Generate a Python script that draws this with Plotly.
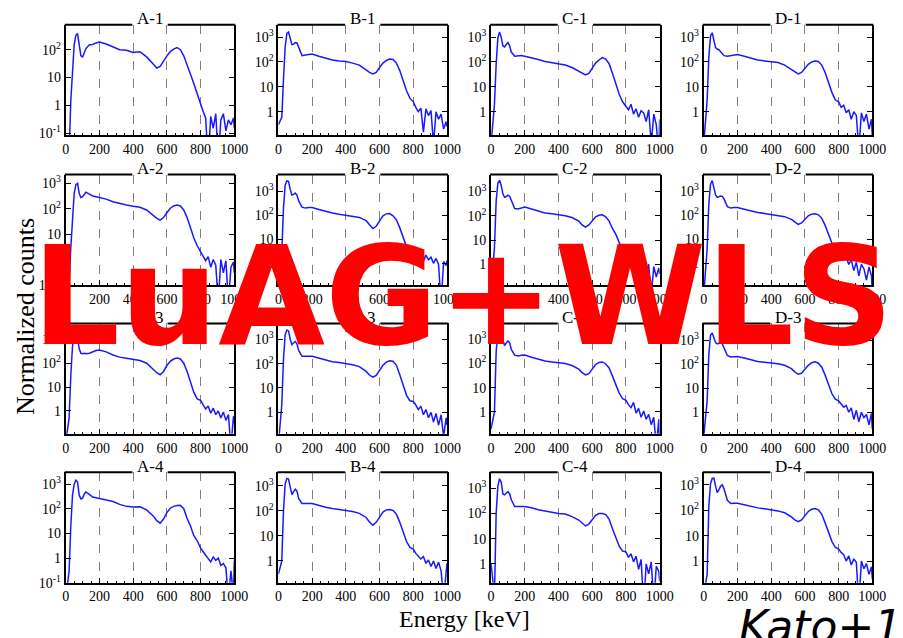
import plotly.graph_objects as go

# ---------------- data ----------------
energy_keV = [0, 20, 30, 40, 50, 60, 70, 80, 90, 100, 110, 120, 140, 160, 180, 200,
              240, 280, 320, 360, 400, 440, 480, 520, 540, 560, 580, 600, 620, 640,
              660, 680, 700, 720, 740, 760, 780, 800, 815, 830, 845, 860, 875, 890,
              905, 920, 935, 950, 965, 980, 995, 1000]

A1 = [0.01, 0.02, 1.5, 25, 150, 330, 380, 150, 60, 55, 80, 110, 150, 155, 175, 190, 160, 130, 100, 95,
      80, 85, 55, 30, 22, 25, 40, 60, 85, 105, 120, 100, 60, 30, 13, 6, 2.5, 1.0, 0.6, 0.35,
      0.01, 0.4, 0.15, 0.5, 0.01, 0.3, 0.5, 0.12, 0.3, 0.2, 0.35, 0.15]
B1 = [0.3, 0.6, 20, 400, 1400, 1600, 900, 500, 520, 600, 580, 400, 180, 190, 200, 210, 170, 140, 120, 110,
      105, 90, 75, 48, 38, 33, 38, 60, 90, 115, 130, 125, 90, 45, 17, 7, 3.5, 2.5, 1.5, 1.0,
      1.4, 0.15, 1.3, 0.7, 1.1, 0.05, 1.0, 0.5, 0.8, 0.2, 0.4, 0.25]
C1 = [0.05, 2, 80, 900, 1600, 1000, 450, 400, 500, 600, 450, 250, 170, 175, 180, 170, 150, 125, 105, 95,
      85, 75, 60, 42, 35, 30, 35, 60, 90, 120, 150, 130, 85, 35, 14, 5, 2.5, 1.6, 1.2, 2.0,
      0.8, 1.3, 0.6, 1.1, 0.9, 0.4, 1.2, 0.05, 0.8, 0.3, 0.02, 0.5]
D1 = [0.05, 3, 150, 1100, 1500, 700, 380, 330, 310, 260, 210, 180, 170, 180, 190, 200, 170, 140, 120, 110,
      105, 95, 75, 50, 38, 33, 38, 55, 80, 100, 110, 105, 75, 38, 15, 6, 3, 2.5, 1.5, 1.8,
      0.9, 1.2, 0.5, 1.0, 0.7, 0.03, 0.9, 0.4, 0.8, 0.2, 0.5, 0.1]
A2 = [0.02, 0.1, 3, 60, 400, 900, 1000, 400, 280, 300, 380, 450, 380, 320, 300, 280, 240, 190, 160, 140,
      125, 115, 90, 55, 42, 36, 45, 70, 105, 130, 140, 130, 90, 45, 18, 7, 3.5, 2.0, 1.2, 0.9,
      1.3, 0.5, 1.0, 0.6, 0.02, 1.0, 0.3, 0.9, 0.02, 0.5, 0.8, 0.3]
B2 = [0.2, 3, 200, 1800, 2700, 2600, 1200, 700, 750, 850, 700, 400, 220, 200, 210, 210, 175, 145, 125, 110,
      100, 92, 82, 60, 40, 28, 35, 60, 95, 115, 118, 95, 65, 30, 11, 5, 3.2, 2.8, 2.0, 1.6,
      2.4, 1.2, 2.2, 1.4, 1.8, 1.0, 1.6, 0.9, 0.02, 1.2, 0.8, 1.3]
C2 = [0.1, 5, 400, 2200, 2900, 1800, 800, 580, 620, 700, 640, 450, 200, 190, 210, 230, 190, 155, 130, 120,
      110, 100, 85, 60, 42, 34, 42, 65, 90, 105, 110, 90, 60, 30, 17, 8, 4, 2.3, 1.8, 1.2,
      2.0, 0.8, 1.5, 0.6, 1.3, 0.4, 1.0, 0.05, 0.8, 0.3, 0.7, 0.4]
D2 = [0.05, 4, 300, 2000, 2800, 1500, 700, 560, 600, 640, 620, 480, 230, 200, 210, 210, 180, 150, 130, 120,
      110, 100, 88, 68, 52, 42, 48, 68, 95, 112, 115, 105, 75, 38, 15, 7, 3.5, 3.0, 2.0, 1.4,
      1.8, 0.9, 1.4, 0.5, 1.1, 0.3, 0.9, 0.6, 0.2, 0.7, 0.3, 0.05]
A3 = [0.05, 0.5, 30, 500, 1400, 1700, 1100, 400, 260, 250, 260, 250, 260, 300, 340, 360, 300, 220, 180, 160,
      145, 130, 100, 55, 40, 33, 45, 80, 120, 150, 165, 150, 100, 45, 17, 6, 3.2, 2.8, 1.8, 1.2,
      1.6, 0.8, 1.3, 0.7, 1.0, 0.5, 0.9, 0.4, 0.7, 0.03, 0.6, 0.3]
B3 = [0.05, 2, 150, 1500, 2400, 2200, 1000, 600, 700, 800, 650, 350, 200, 195, 200, 200, 170, 140, 120, 110,
      100, 90, 75, 48, 34, 28, 33, 55, 85, 115, 130, 125, 85, 35, 12, 5, 3.0, 2.8, 2.0, 1.3,
      1.8, 0.8, 1.3, 0.6, 1.0, 0.4, 0.9, 0.3, 0.8, 0.1, 0.6, 0.3]
C3 = [0.2, 1, 300, 1800, 2300, 1500, 800, 550, 700, 850, 700, 380, 220, 205, 215, 220, 180, 150, 125, 115,
      110, 100, 82, 58, 42, 34, 38, 60, 90, 110, 115, 95, 65, 30, 14, 6, 3.5, 3.0, 2.0, 1.5,
      2.5, 0.9, 1.4, 0.6, 1.1, 0.5, 0.8, 0.3, 0.6, 0.04, 0.5, 0.02]
D3 = [0.1, 3, 250, 1600, 2000, 1300, 800, 700, 750, 800, 700, 500, 230, 200, 210, 210, 180, 150, 130, 120,
      115, 105, 90, 65, 48, 38, 42, 62, 90, 115, 125, 110, 75, 35, 14, 6, 3.5, 3.0, 2.2, 1.6,
      1.9, 1.0, 1.5, 0.5, 1.2, 0.4, 1.0, 0.6, 0.8, 0.3, 0.9, 0.2]
A4 = [0.02, 0.3, 20, 350, 1000, 1450, 1200, 350, 250, 270, 400, 480, 380, 300, 280, 260, 230, 195, 150, 125,
      118, 120, 90, 50, 33, 26, 38, 70, 105, 125, 135, 137, 100, 40, 20, 8, 5, 2.5, 1.8, 1.3,
      1.0, 0.7, 1.1, 0.8, 1.0, 0.5, 0.6, 0.4, 0.02, 0.3, 0.03, 0.8]
B4 = [0.3, 1, 100, 1200, 2000, 1900, 900, 450, 600, 740, 620, 320, 200, 195, 200, 200, 165, 140, 125, 115,
      102, 95, 80, 55, 36, 27, 35, 55, 90, 110, 115, 105, 75, 35, 13, 6, 3.5, 3.0, 2.0, 1.6,
      1.2, 1.5, 0.8, 1.1, 0.6, 1.0, 0.5, 0.9, 0.4, 0.03, 0.5, 0.8]
C4 = [1.0, 0.05, 100, 1200, 2400, 1800, 600, 550, 650, 740, 600, 350, 190, 185, 190, 190, 170, 140, 125, 110,
      100, 95, 75, 55, 40, 32, 38, 58, 85, 100, 100, 90, 60, 25, 11, 5, 3.2, 3.0, 1.8, 2.5,
      1.2, 2.0, 0.6, 1.5, 0.02, 1.0, 0.4, 1.2, 0.03, 0.8, 0.5, 0.2]
D4 = [0.05, 0.3, 150, 1100, 1800, 1850, 900, 500, 650, 900, 1000, 700, 250, 185, 190, 190, 165, 140, 125, 115,
      105, 95, 80, 55, 42, 36, 42, 62, 90, 110, 118, 105, 70, 32, 14, 6, 3.5, 3.0, 2.2, 1.8,
      1.0, 1.6, 0.7, 1.2, 0.9, 0.02, 1.0, 0.5, 0.8, 0.3, 0.6, 0.2]

panel_titles = ["A-1", "B-1", "C-1", "D-1",
                "A-2", "B-2", "C-2", "D-2",
                "A-3", "B-3", "C-3", "D-3",
                "A-4", "B-4", "C-4", "D-4"]
panel_series = [A1, B1, C1, D1, A2, B2, C2, D2, A3, B3, C3, D3, A4, B4, C4, D4]

# log10 y ranges of each panel
y_ranges = [[-1.07, 2.9], [-0.94, 3.5], [-0.94, 3.5], [-0.94, 3.5],
            [-1.0, 3.35], [-0.9, 3.7], [-0.85, 3.7], [-0.9, 3.7],
            [-0.96, 3.67], [-0.88, 3.65], [-0.9, 3.65], [-0.9, 3.7],
            [-1.0, 3.48], [-0.87, 3.55], [-0.75, 3.64], [-0.85, 3.5]]

x_ticks = [0, 200, 400, 600, 800, 1000]
y_tickvals = [0.1, 1, 10, 100, 1000]
y_ticktext = ["10<sup>-1</sup>", "1", "10", "10<sup>2</sup>", "10<sup>3</sup>"]

# ---------------- layout geometry (pixels) ----------------
W, H = 903, 638
col_left = [63, 280, 497, 714]
row_top = [24, 176, 327, 478]
pw, ph = 172, 112
gap_half = 18

SERIF = "Liberation Serif, Times New Roman, serif"
LINE_BLUE = "rgb(25,25,255)"

fig = go.Figure()
layout = dict(width=W, height=H, margin=dict(l=0, r=0, t=0, b=0),
              paper_bgcolor="white", plot_bgcolor="white", showlegend=False)
shapes = []
annotations = []

for i, (title, counts) in enumerate(zip(panel_titles, panel_series)):
    r, c = divmod(i, 4)
    n = "" if i == 0 else str(i + 1)
    left, top = col_left[c], row_top[r]
    x0, x1 = left / W, (left + pw) / W
    y1, y0 = 1 - top / H, 1 - (top + ph) / H
    fig.add_trace(go.Scatter(x=energy_keV, y=counts, mode="lines",
                             line=dict(color=LINE_BLUE, width=1.5),
                             xaxis="x" + n, yaxis="y" + n, hoverinfo="skip"))
    layout["xaxis" + n] = dict(domain=[x0, x1], anchor="y" + n, range=[0, 1000],
                               tickvals=x_ticks, ticks="inside", ticklen=5,
                               tickcolor="black", showline=True, linecolor="black",
                               linewidth=2, mirror=False, showgrid=True,
                               gridcolor="#808080", griddash="dash", gridwidth=1,
                               zeroline=False,
                               minor=dict(ticks="inside", ticklen=2, dtick=50,
                                          tickcolor="black", showgrid=False),
                               tickfont=dict(family=SERIF, size=14, color="black"))
    layout["yaxis" + n] = dict(domain=[y0, y1], anchor="x" + n, type="log",
                               range=y_ranges[i], tickvals=y_tickvals, ticktext=y_ticktext,
                               ticks="inside", ticklen=5, tickcolor="black",
                               showline=True, linecolor="black", linewidth=2,
                               mirror="ticks", showgrid=False, zeroline=False,
                               tickfont=dict(family=SERIF, size=14, color="black"))
    cx = left + pw / 2
    for a, b in [(left - 1, cx - gap_half), (cx + gap_half, left + pw + 1)]:
        shapes.append(dict(type="line", xref="paper", yref="paper",
                           x0=a / W, x1=b / W, y0=y1, y1=y1,
                           line=dict(color="black", width=2)))
    annotations.append(dict(text=title, xref="paper", yref="paper", x=cx / W, y=y1,
                            xanchor="center", yanchor="middle", yshift=6, showarrow=False,
                            font=dict(family=SERIF, size=17, color="black")))

annotations.append(dict(text="Normalized counts", xref="paper", yref="paper",
                        x=22 / W, y=1 - 320 / H, textangle=-90, showarrow=False,
                        xanchor="center", yanchor="middle",
                        font=dict(family=SERIF, size=26, color="black")))
annotations.append(dict(text="Energy [keV]", xref="paper", yref="paper",
                        x=470 / W, y=1 - 627 / H, showarrow=False,
                        xanchor="center", yanchor="middle",
                        font=dict(family=SERIF, size=24, color="black")))
annotations.append(dict(text="LuAG+WLS", xref="paper", yref="paper",
                        x=468 / W, y=1 - 300 / H, showarrow=False,
                        xanchor="center", yanchor="middle",
                        font=dict(family="DejaVu Sans", size=138, color="#ff0000",
                                  weight="bold")))
annotations.append(dict(text="Kato+1", xref="paper", yref="paper",
                        x=748 / W, y=1 - 634 / H, showarrow=False,
                        xanchor="left", yanchor="middle",
                        font=dict(family="DejaVu Sans", size=44, color="black",
                                  style="italic")))

layout["shapes"] = shapes
layout["annotations"] = annotations
fig.update_layout(**layout)
fig.write_html("out.html")
